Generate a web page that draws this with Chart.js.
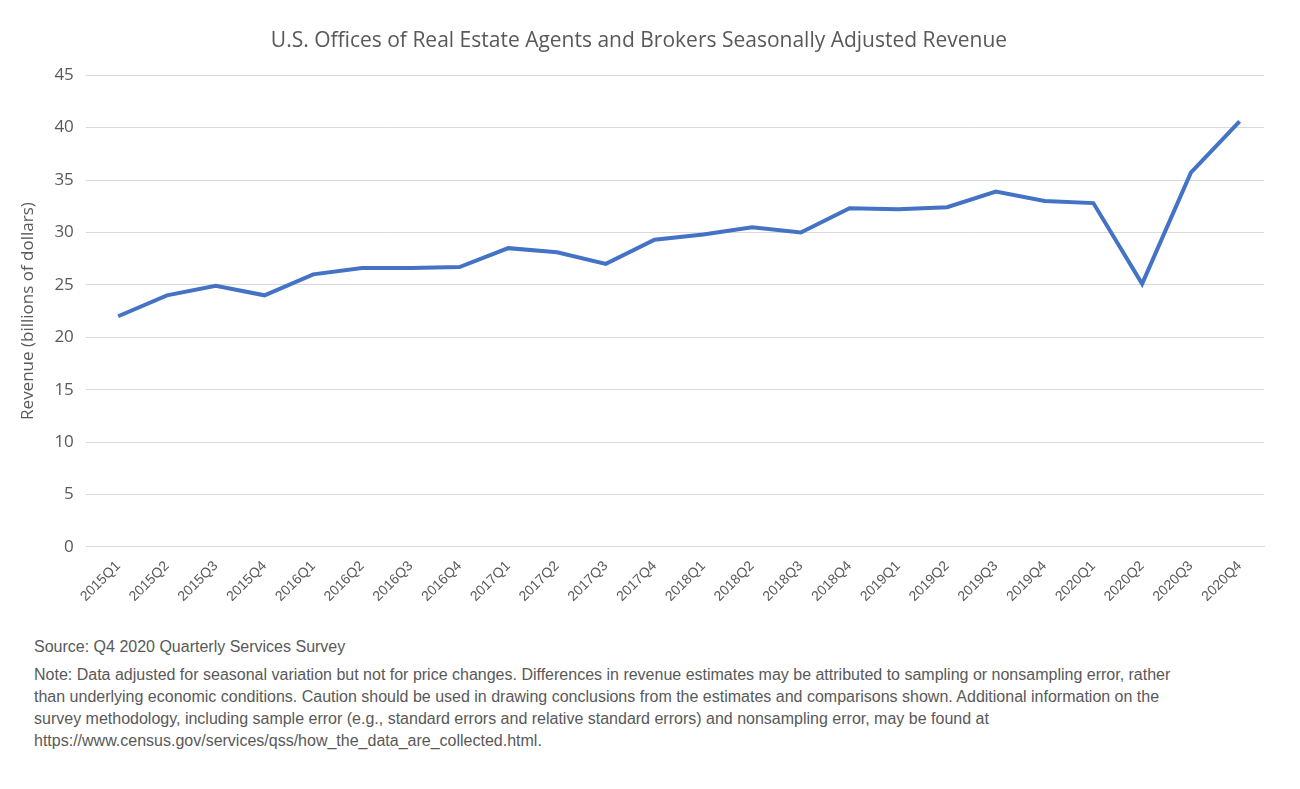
<!DOCTYPE html>
<html><head><meta charset="utf-8">
<script src="https://cdn.jsdelivr.net/npm/chart.js@4"></script>
<style>
body{margin:0;background:#fff;width:1300px;height:789px;overflow:hidden;font-family:"Liberation Sans",Arial,sans-serif;}
#wrap{position:absolute;left:0;top:0;width:1300px;height:608px;}
.note{position:absolute;left:34px;color:#595959;font-size:16px;line-height:22px;width:1145px;}
</style></head><body>
<div id="wrap"><canvas id="c"></canvas></div>
<div class="note" style="top:636px">Source: Q4 2020 Quarterly Services Survey</div>
<div class="note" style="top:664px">Note: Data adjusted for seasonal variation but not for price changes. Differences in revenue estimates may be attributed to sampling or nonsampling error, rather than underlying economic conditions. Caution should be used in drawing conclusions from the estimates and comparisons shown. Additional information on the survey methodology, including sample error (e.g., standard errors and relative standard errors) and nonsampling error, may be found at https://www.census.gov/services/qss/how_the_data_are_collected.html.</div>
<script>
const categories=["2015Q1","2015Q2","2015Q3","2015Q4","2016Q1","2016Q2","2016Q3","2016Q4","2017Q1","2017Q2","2017Q3","2017Q4","2018Q1","2018Q2","2018Q3","2018Q4","2019Q1","2019Q2","2019Q3","2019Q4","2020Q1","2020Q2","2020Q3","2020Q4"];
const revenue=[22.0,24.0,24.9,24.0,26.0,26.6,26.6,26.7,28.5,28.1,27.0,29.3,29.8,30.5,30.0,32.3,32.2,32.4,33.9,33.0,32.8,25.1,35.7,40.6];
new Chart(document.getElementById('c'),{type:'line',
data:{labels:categories,datasets:[{data:revenue,borderColor:'#4472C4',borderWidth:4,pointRadius:0,tension:0}]},
options:{responsive:true,maintainAspectRatio:false,animation:false,
layout:{padding:{left:14,right:36,top:14}},
plugins:{legend:{display:false},tooltip:{enabled:false},
title:{display:true,text:'U.S. Offices of Real Estate Agents and Brokers Seasonally Adjusted Revenue',color:'#595959',font:{family:'"Open Sans"',size:21,weight:'normal'},padding:{top:14,bottom:22}}},
scales:{x:{offset:true,grid:{display:false},border:{color:'#d9d9d9'},ticks:{color:'#595959',font:{family:'"Liberation Sans"',size:14},maxRotation:45,minRotation:45,autoSkip:false}},
y:{min:0,max:45,ticks:{stepSize:5,color:'#595959',font:{family:'"Open Sans"',size:17},padding:12},grid:{color:'#d9d9d9'},border:{display:false},
title:{display:true,text:'Revenue (billions of dollars)',color:'#595959',font:{family:'"Open Sans"',size:17}}}}}});
</script></body></html>
